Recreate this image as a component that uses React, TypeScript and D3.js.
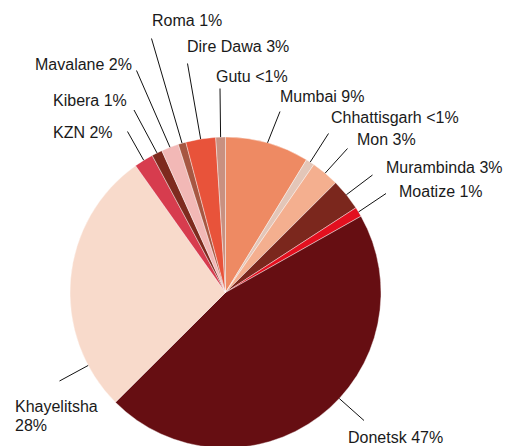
import React from "react";
import * as d3 from "d3";

const categories = ["Mumbai", "Chhattisgarh", "Mon", "Murambinda", "Moatize", "Donetsk", "Khayelitsha", "KZN", "Kibera", "Mavalane", "Roma", "Dire Dawa", "Gutu"];
const values = [8.7, 0.9, 2.9, 3.3, 1.0, 45.6, 27.6, 2.0, 1.1, 1.8, 0.8, 3.1, 1.0];
const labelTexts = ["Mumbai 9%", "Chhattisgarh <1%", "Mon 3%", "Murambinda 3%", "Moatize 1%", "Donetsk 47%", "Khayelitsha|28%", "KZN 2%", "Kibera 1%", "Mavalane 2%", "Roma 1%", "Dire Dawa 3%", "Gutu <1%"];
const colors = ["#EE8A63", "#E3C6B8", "#F4AF8F", "#7B271D", "#E3101F", "#660E12", "#F8DACB", "#D73C4E", "#7E2A1E", "#F2B8B6", "#A75742", "#E8533A", "#C99080"];

// label layout: text anchor (x, baseline y), leader line start, anchor fraction within slice
const layout: Record<string, { tx: number; ty: number; lx: number; ly: number; f: number }> = {
  Mumbai: { tx: 280, ty: 102, lx: 280, ly: 111.5, f: 0.5 },
  Chhattisgarh: { tx: 331, ty: 123, lx: 328.5, ly: 133.5, f: 0.5 },
  Mon: { tx: 357, ty: 145, lx: 347.5, ly: 148.5, f: 0.5 },
  Murambinda: { tx: 386, ty: 173, lx: 372.5, ly: 175, f: 0.5 },
  Moatize: { tx: 399, ty: 197, lx: 386, ly: 193.5, f: 0.5 },
  Donetsk: { tx: 348, ty: 443, lx: 364, ly: 420.5, f: 0.44 },
  Khayelitsha: { tx: 15, ty: 412, lx: 59.5, ly: 381, f: 0.17 },
  KZN: { tx: 53, ty: 138, lx: 127.5, ly: 131.5, f: 0.5 },
  Kibera: { tx: 53, ty: 106, lx: 134, ly: 110, f: 0.5 },
  Mavalane: { tx: 35, ty: 70, lx: 136.5, ly: 70.5, f: 0.5 },
  Roma: { tx: 152, ty: 26, lx: 151.5, ly: 38.5, f: 0.5 },
  "Dire Dawa": { tx: 187, ty: 52, lx: 187.5, ly: 63.5, f: 0.5 },
  Gutu: { tx: 216, ty: 82, lx: 220, ly: 88.5, f: 0.5 },
};

const W = 506, H = 446;
const cx = 225.5, cy = 292.5, R = 155.5;

export default function App() {
  React.useEffect(() => {
    document.body.style.margin = "0";
  }, []);
  const data = categories.map((c, i) => ({ c, v: values[i], col: colors[i], label: labelTexts[i] }));
  const pie = d3.pie<any>().value((d) => d.v).sort(null);
  const arcs = pie(data);
  const arc = d3.arc<any>().innerRadius(0).outerRadius(R);
  return (
    <svg width={W} height={H} style={{ display: "block" }} fontFamily="'Liberation Sans', Arial, Helvetica, sans-serif">
      <rect width={W} height={H} fill="#fff" />
      <g transform={`translate(${cx},${cy})`}>
        {arcs.map((a, i) => (
          <path key={i} d={arc(a) || ""} fill={a.data.col} stroke="#fff" strokeWidth={0.4} />
        ))}
      </g>
      {arcs.map((a, i) => {
        const L = layout[a.data.c];
        const ang = a.startAngle + (a.endAngle - a.startAngle) * L.f;
        const ex = cx + R * Math.sin(ang);
        const ey = cy - R * Math.cos(ang);
        const lines = a.data.label.split("|");
        return (
          <g key={"l" + i}>
            <line x1={L.lx} y1={L.ly} x2={ex} y2={ey} stroke="#111" strokeWidth={1} />
            <text x={L.tx} y={L.ty} fontSize={16} fill="#1a1a1a">
              {lines.map((t: string, j: number) => (
                <tspan key={j} x={L.tx} dy={j === 0 ? 0 : 18.5}>{t}</tspan>
              ))}
            </text>
          </g>
        );
      })}
    </svg>
  );
}
